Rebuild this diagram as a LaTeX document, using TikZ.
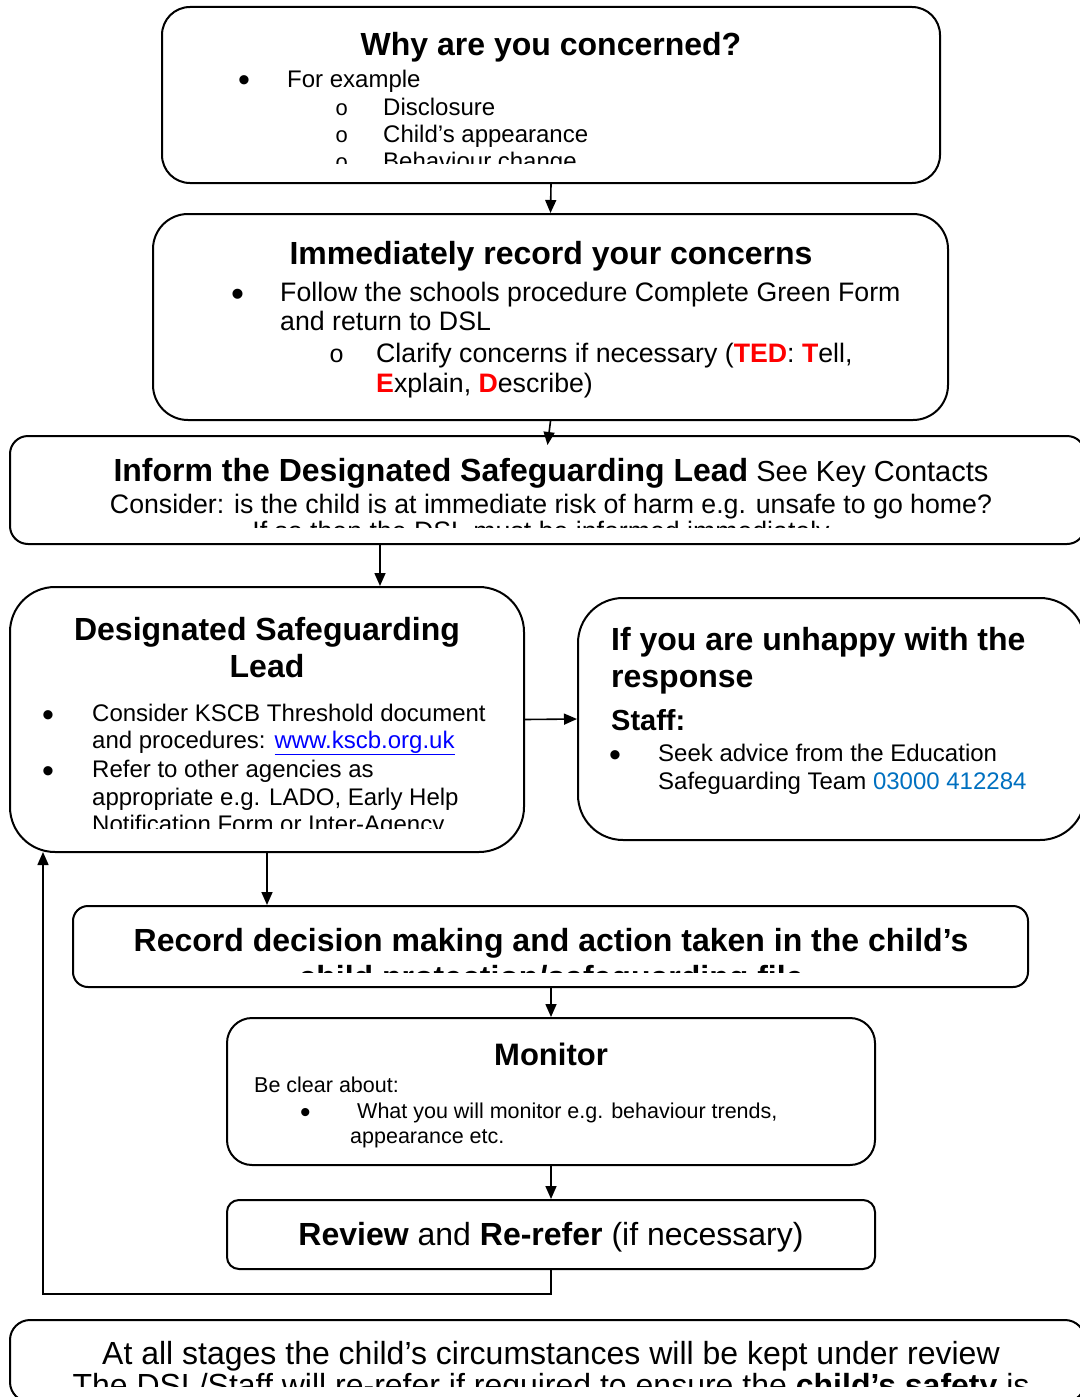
\documentclass[tikz,border=0pt]{standalone}
\usepackage{fontspec}
\setmainfont{Liberation Sans}
\newfontfamily\markfont{Liberation Mono}
\usetikzlibrary{arrows.meta}
\definecolor{linkblue}{RGB}{0,0,255}
\definecolor{phoneblue}{RGB}{0,112,192}
\definecolor{tedred}{RGB}{255,0,0}
\newcommand\fsz[1]{\fontsize{#1pt}{#1pt}\selectfont}
\newcommand\bigbul[1]{{\fontsize{#1pt}{#1pt}\selectfont\textbullet}}
\begin{document}
\begin{tikzpicture}[x=1pt,y=-1pt,
  box/.style={draw, line width=2pt, inner sep=0pt},
  txt/.style={inner sep=0pt, anchor=base west},
  ctxt/.style={inner sep=0pt, anchor=base},
  arr/.style={line width=1.6pt, -{Triangle[length=13pt,width=11pt]}},
  ttl/.style={font=\fsz{32}\bfseries},
  bodyA/.style={font=\fsz{24}},
  bodyB/.style={font=\fsz{26.7}},
  bodyC/.style={font=\fsz{21.5}},
  mk/.style={inner sep=0pt, anchor=base west, font=\markfont\fsz{22}}]
\useasboundingbox (0,0) rectangle (1079,1397);

% boxes
\node[box, rounded corners=28pt, minimum width=778pt, minimum height=176pt] (why) at (551,95) {};
\node[box, rounded corners=35pt, minimum width=795pt, minimum height=206pt] (imm) at (550.5,317) {};
\node[box, rounded corners=18pt, minimum width=1075pt, minimum height=108pt] (inform) at (547.5,490) {};
\node[box, rounded corners=45pt, minimum width=514pt, minimum height=265pt] (dsl) at (267,719.5) {};
\node[box, rounded corners=45pt, minimum width=507pt, minimum height=242pt] (unhappy) at (831.5,719) {};
\node[box, rounded corners=15pt, minimum width=955pt, minimum height=81pt] (record) at (550.5,946.5) {};
\node[box, rounded corners=25pt, minimum width=648pt, minimum height=147pt] (monitor) at (551,1091.5) {};
\node[box, rounded corners=12pt, minimum width=648pt, minimum height=69pt] (review) at (551,1234.5) {};
\node[box, rounded corners=20pt, minimum width=1075pt, minimum height=82pt] (bottom) at (547.5,1361) {};

% box 1 text
\begin{scope}
\clip (170,10) rectangle (930,163);
\node[ttl, ctxt] (t1a) at (551,56) {Why are you concerned?};
\node[txt] (t1b) at (238,92) {\bigbul{34}};
\node[bodyA, txt] (t1c) at (287,87) {For example};
\node[mk] (t1d) at (335,115) {o};
\node[bodyA, txt] (t1e) at (383,115) {Disclosure};
\node[mk] (t1f) at (335,142) {o};
\node[bodyA, txt] (t1g) at (383,142) {Child’s appearance};
\node[mk] (t1h) at (335,169) {o};
\node[bodyA, txt] (t1i) at (383,169) {Behaviour change};
\end{scope}

% box 2 text
\node[ttl, ctxt] (t2a) at (551,264) {Immediately record your concerns};
\node[txt] (t2b) at (231,306) {\bigbul{37}};
\node[bodyB, txt] (t2c) at (280,301) {Follow the schools procedure Complete Green Form};
\node[bodyB, txt] (t2d) at (280,330) {and return to DSL};
\node[mk, font=\markfont\fsz{25}] (t2e) at (329,362) {o};
\node[bodyB, txt] (t2f) at (376,362) {Clarify concerns if necessary (\textcolor{tedred}{\bfseries TED}: \textcolor{tedred}{\bfseries T}ell,};
\node[bodyB, txt] (t2g) at (376,392) {\textcolor{tedred}{\bfseries E}xplain, \textcolor{tedred}{\bfseries D}escribe)};

% box 3 text
\begin{scope}
\clip (15,440) rectangle (1079,527);
\node[ctxt] (t3a) at (551,481) {\fsz{32}\bfseries Inform the Designated Safeguarding Lead\mdseries\fsz{29} See Key Contacts};
\node[bodyB, ctxt] (t3b) at (551,513) {Consider: is the child is at immediate risk of harm e.g. unsafe to go home?};
\node[bodyB, ctxt] (t3c) at (541,540) {If so then the DSL must be informed immediately};
\end{scope}

% box 4 text
\begin{scope}
\clip (15,592) rectangle (519,828);
\node[ttl, ctxt] (t4a) at (267,640) {Designated Safeguarding};
\node[ttl, ctxt] (t4b) at (267,677) {Lead};
\node[txt] (t4c) at (42,726) {\bigbul{34}};
\node[bodyA, txt] (t4d) at (92,721) {Consider KSCB Threshold document};
\node[bodyA, txt] (t4e) at (92,748) {and procedures: \textcolor{linkblue}{\underline{www.kscb.org.uk}}};
\node[txt] (t4f) at (42,782) {\bigbul{34}};
\node[bodyA, txt] (t4g) at (92,777) {Refer to other agencies as};
\node[bodyA, txt] (t4h) at (92,805) {appropriate e.g. LADO, Early Help};
\node[bodyA, txt] (t4i) at (92,832) {Notification Form or Inter-Agency};
\end{scope}

% box 5 text
\node[ttl, txt] (t5a) at (611,650) {If you are unhappy with the};
\node[ttl, txt] (t5b) at (611,687) {response};
\node[txt, font=\fsz{29}\bfseries] (t5c) at (611,730) {Staff:};
\node[txt] (t5d) at (609,766) {\bigbul{34}};
\node[bodyA, txt] (t5e) at (658,761) {Seek advice from the Education};
\node[bodyA, txt] (t5f) at (658,789) {Safeguarding Team \textcolor{phoneblue}{03000 412284}};

% box 6 text
\begin{scope}
\clip (80,910) rectangle (1020,972);
\node[ttl, ctxt] (t6a) at (551,951) {Record decision making and action taken in the child’s};
\node[ttl, ctxt] (t6b) at (551,988) {child protection/safeguarding file};
\end{scope}

% box 7 text
\node[ctxt, font=\fsz{31}\bfseries] (t7a) at (551,1065) {Monitor};
\node[bodyC, txt] (t7b) at (254,1092) {Be clear about:};
\node[txt] (t7c) at (300,1122) {\bigbul{30}};
\node[bodyC, txt] (t7d) at (357,1118) {What you will monitor e.g. behaviour trends,};
\node[bodyC, txt] (t7e) at (350,1143) {appearance etc.};

% box 8 text
\node[ctxt, font=\fsz{32}] (t8a) at (551,1245) {\bfseries Review\mdseries{} and \bfseries Re-refer\mdseries{} (if necessary)};

% box 9 text
\begin{scope}
\clip (15,1324) rectangle (1079,1386);
\node[ctxt, font=\fsz{32}] (t9a) at (551,1364) {At all stages the child’s circumstances will be kept under review};
\node[ctxt, font=\fsz{32}] (t9b) at (551,1396) {The DSL/Staff will re-refer if required to ensure the \bfseries child’s safety\mdseries{} is};
\end{scope}

% connectors
\coordinate (c34) at (380,0);
\coordinate (lp) at (43,852);
\draw[arr] (why.south) -- (imm.north);
\draw[arr] (imm.south) -- ([yshift=-10pt]inform.north);
\draw[arr] (inform.south -| c34) -- (dsl.north -| c34);
\draw[arr] (dsl.east) -- (unhappy.west);
\draw[arr] (dsl.south) -- (record.north -| dsl.south);
\draw[arr] (monitor.north |- record.south) -- (monitor.north);
\draw[arr] (monitor.south) -- (review.north);
\draw[arr] (review.south) -- ++(0,24) -| (lp);
\end{tikzpicture}
\end{document}
